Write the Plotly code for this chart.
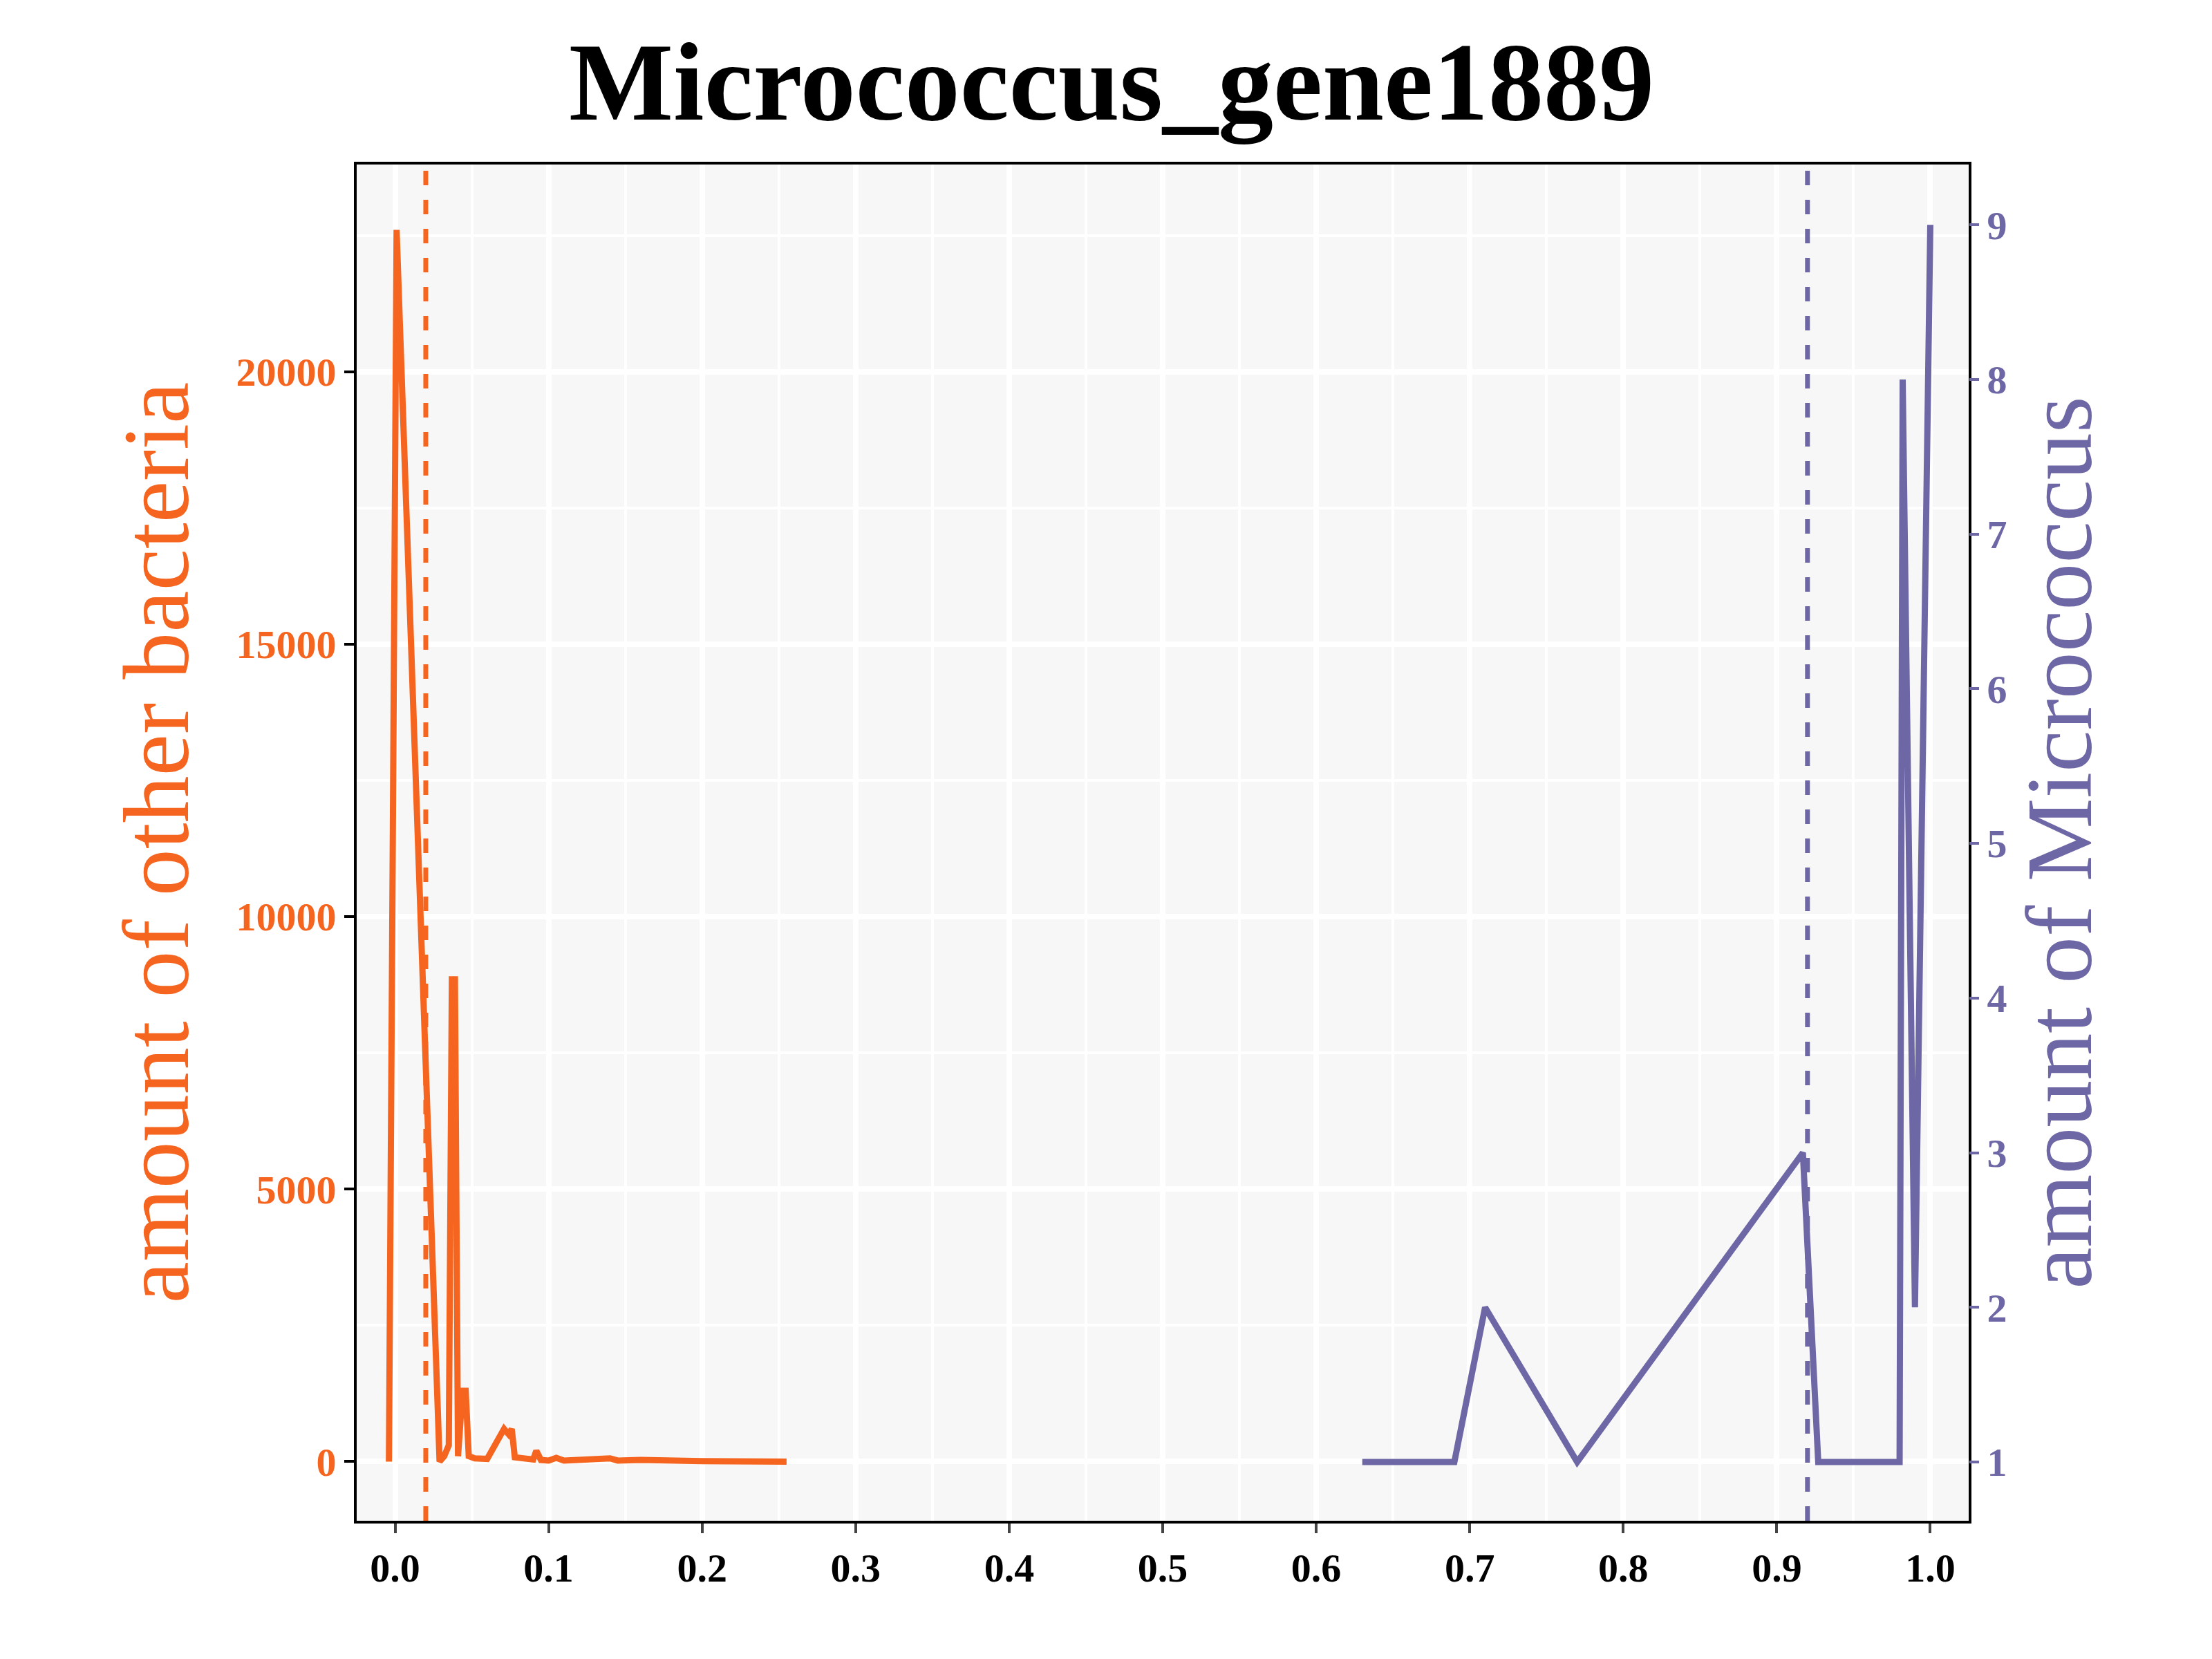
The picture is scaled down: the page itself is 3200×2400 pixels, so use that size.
import plotly.graph_objects as go

# orange series: other bacteria
other_x = [-0.004, 0.001, 0.029, 0.032, 0.035, 0.037, 0.039, 0.041, 0.044, 0.046, 0.048, 0.052, 0.06, 0.069, 0.071, 0.074, 0.076, 0.078, 0.085, 0.09, 0.092, 0.095, 0.1, 0.105, 0.11, 0.14, 0.145, 0.16, 0.2, 0.255]
other_y = [0, 22600, 0, 100, 300, 8850, 8850, 100, 1300, 1300, 100, 60, 50, 550, 600, 500, 600, 80, 60, 40, 200, 30, 20, 70, 20, 60, 20, 30, 10, 0]
# purple series: Micrococcus
micro_x = [0.63, 0.69, 0.71, 0.77, 0.917, 0.927, 0.98, 0.982, 0.99, 1.0]
micro_y = [1, 1, 2, 1, 3, 1, 1, 8, 2, 9]

orange = "#F5651F"
purple = "#6E67A5"
font = "Liberation Serif"

fig = go.Figure()
fig.add_trace(go.Scatter(x=other_x, y=other_y, mode="lines", line=dict(color=orange, width=9), showlegend=False))
fig.add_trace(go.Scatter(x=micro_x, y=micro_y, mode="lines", line=dict(color=purple, width=9), yaxis="y2", showlegend=False))

fig.add_shape(type="line", x0=0.02, x1=0.02, y0=0, y1=1, yref="paper", line=dict(color=orange, width=7, dash="dash"))
fig.add_shape(type="line", x0=0.92, x1=0.92, y0=0, y1=1, yref="paper", line=dict(color=purple, width=7, dash="dash"))

fig.update_layout(
    width=3200, height=2400,
    paper_bgcolor="white", plot_bgcolor="#F7F7F7",
    margin=dict(l=508, r=360, t=230, b=208),
    title=dict(text="<b>Micrococcus_gene1889</b>", x=0.5, xanchor="center", y=0.978,
               font=dict(family=font, size=160, color="black")),
    font=dict(family=font),
    xaxis=dict(range=[-0.025, 1.025], tickvals=[i / 10 for i in range(11)],
               ticktext=["<b>%.1f</b>" % (i / 10) for i in range(11)],
               tickfont=dict(size=58, color="black"), ticks="outside", ticklen=14, tickwidth=4,
               showline=True, linecolor="black", linewidth=4, mirror=True,
               gridcolor="white", gridwidth=8, zeroline=False,
               minor=dict(dtick=0.05, showgrid=True, gridcolor="white", gridwidth=4)),
    yaxis=dict(range=[-1085, 23800], tickvals=[0, 5000, 10000, 15000, 20000],
               ticktext=["<b>%d</b>" % v for v in [0, 5000, 10000, 15000, 20000]],
               tickfont=dict(size=58, color=orange), ticks="outside", ticklen=14, tickwidth=4, tickcolor="black",
               showline=True, linecolor="black", linewidth=4, mirror=True,
               title=dict(text="amount of other bacteria", font=dict(size=136, color=orange), standoff=24),
               gridcolor="white", gridwidth=8, zeroline=False,
               minor=dict(dtick=2500, showgrid=True, gridcolor="white", gridwidth=4)),
    yaxis2=dict(overlaying="y", side="right", range=[0.62, 9.39], tickvals=list(range(1, 10)),
                ticktext=["<b>%d</b>" % v for v in range(1, 10)],
                tickfont=dict(size=58, color=purple), ticks="outside", ticklen=14, tickwidth=4, tickcolor=purple,
                title=dict(text="amount of Micrococcus", font=dict(size=136, color=purple), standoff=24),
                showgrid=False, zeroline=False),
)

fig.write_html("out.html")
